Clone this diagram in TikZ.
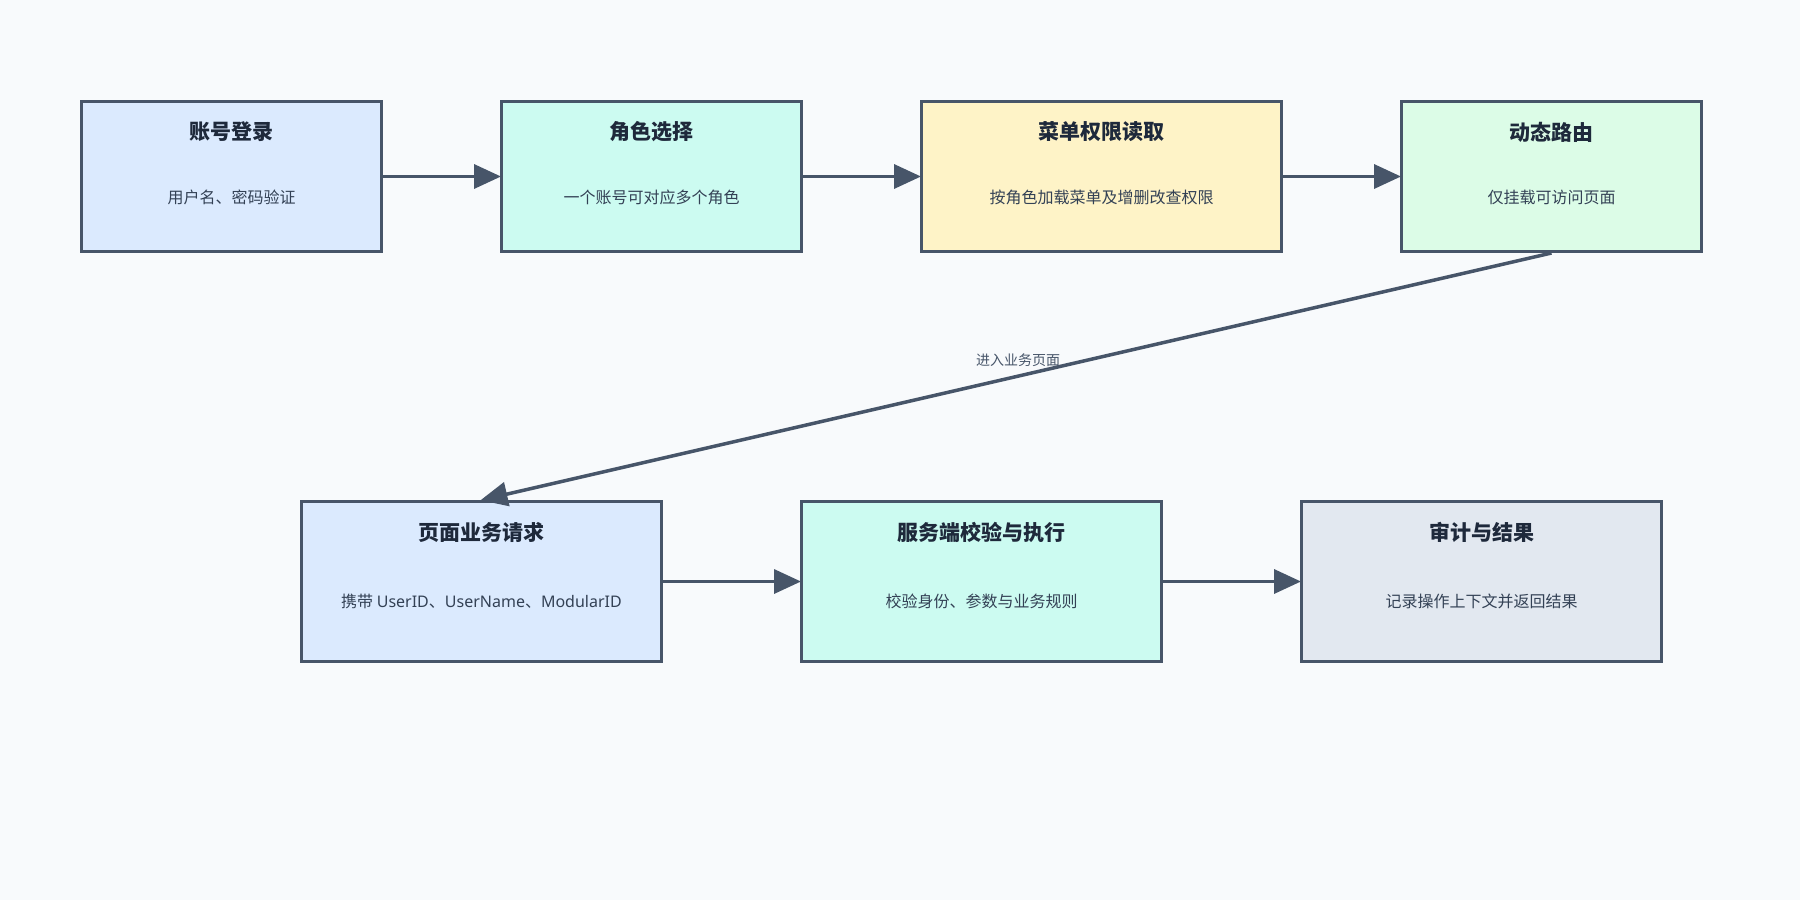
\documentclass[tikz,border=0pt]{standalone}
\usepackage{fontspec}
\setmainfont{Noto Sans CJK SC}
\newfontfamily\latinf{Noto Sans}
\usetikzlibrary{arrows.meta}
\definecolor{bg}{HTML}{F8FAFC}
\definecolor{edgec}{HTML}{475569}
\definecolor{titlec}{HTML}{1E293B}
\definecolor{subc}{HTML}{334155}
\definecolor{fblue}{HTML}{DBEAFE}
\definecolor{fteal}{HTML}{CCFBF1}
\definecolor{fyellow}{HTML}{FEF3C7}
\definecolor{fgreen}{HTML}{DCFCE7}
\definecolor{fslate}{HTML}{E2E8F0}
\tikzset{
  box/.style={draw=edgec, line width=3pt, rectangle, inner sep=0pt, anchor=north west},
  ttl/.style={font=\fontsize{21}{25}\selectfont\bfseries, text=titlec, inner sep=0pt},
  sub/.style={font=\fontsize{16}{19}\selectfont, text=subc, inner sep=0pt},
  flow/.style={draw=edgec, line width=3.5pt, -{Triangle[length=27pt,width=24pt]}, shorten >=-1pt},
  elabel/.style={font=\fontsize{14}{16}\selectfont, text=edgec, inner sep=0pt}
}
\begin{document}
\begin{tikzpicture}[x=1pt,y=-1pt]
\fill[bg] (0,0) rectangle (1800,900);
\useasboundingbox (0,0) rectangle (1800,900);
% row 1
\node[box, fill=fblue, minimum width=300pt, minimum height=150pt] (b1) at (80,100) {};
\node[box, fill=fteal, minimum width=300pt, minimum height=150pt] (b2) at (500,100) {};
\node[box, fill=fyellow, minimum width=360pt, minimum height=150pt] (b3) at (920,100) {};
\node[box, fill=fgreen, minimum width=300pt, minimum height=150pt] (b4) at (1400,100) {};
% row 2
\node[box, fill=fblue, minimum width=360pt, minimum height=160pt] (b5) at (300,500) {};
\node[box, fill=fteal, minimum width=360pt, minimum height=160pt] (b6) at (800,500) {};
\node[box, fill=fslate, minimum width=360pt, minimum height=160pt] (b7) at (1300,500) {};
% texts
\node[ttl] (t1) at ([yshift=-32pt]b1.north) {账号登录};
\node[sub] (s1) at ([yshift=-21pt]b1.center) {用户名、密码验证};
\node[ttl] (t2) at ([yshift=-32pt]b2.north) {角色选择};
\node[sub] (s2) at ([yshift=-21pt]b2.center) {一个账号可对应多个角色};
\node[ttl] (t3) at ([yshift=-32pt]b3.north) {菜单权限读取};
\node[sub] (s3) at ([yshift=-21pt]b3.center) {按角色加载菜单及增删改查权限};
\node[ttl] (t4) at ([yshift=-32pt]b4.north) {动态路由};
\node[sub] (s4) at ([yshift=-21pt]b4.center) {仅挂载可访问页面};
\node[ttl] (t5) at ([yshift=-32pt]b5.north) {页面业务请求};
\node[sub] (s5) at ([yshift=-20pt]b5.center) {携带 {\latinf UserID}、{\latinf UserName}、{\latinf ModularID}};
\node[ttl] (t6) at ([yshift=-32pt]b6.north) {服务端校验与执行};
\node[sub] (s6) at ([yshift=-20pt]b6.center) {校验身份、参数与业务规则};
\node[ttl] (t7) at ([yshift=-32pt]b7.north) {审计与结果};
\node[sub] (s7) at ([yshift=-20pt]b7.center) {记录操作上下文并返回结果};
% connectors
\draw[flow] (b1.east) -- (b2.west);
\draw[flow] (b2.east) -- (b3.west);
\draw[flow] (b3.east) -- (b4.west);
\draw[flow] (b4.south) -- (b5.north);
\draw[flow] (b5.east) -- (b6.west);
\draw[flow] (b6.east) -- (b7.west);
\node[elabel] (lab) at (1018,360) {进入业务页面};
\end{tikzpicture}
\end{document}
